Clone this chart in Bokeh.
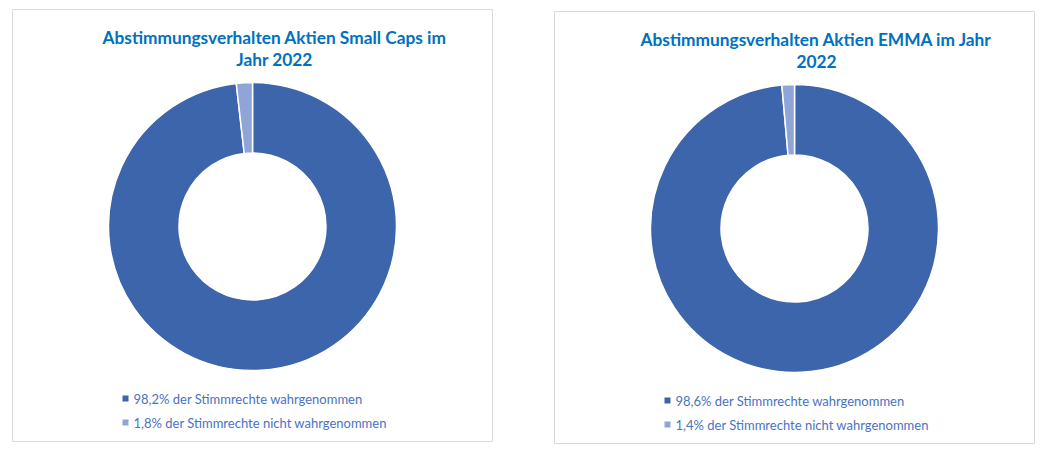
import math
from bokeh.plotting import figure
from bokeh.layouts import row, column
from bokeh.models import Range1d, Spacer, ColumnDataSource
from bokeh.core.properties import value
from bokeh.embed import file_html
from bokeh.resources import INLINE

# ---- data ----
titles_left = ["Abstimmungsverhalten Aktien Small Caps im", "Jahr 2022"]
titles_right = ["Abstimmungsverhalten Aktien EMMA im Jahr", "2022"]
values_left = [98.2, 1.8]
values_right = [98.6, 1.4]
label_suffixes = ["% der Stimmrechte wahrgenommen", "% der Stimmrechte nicht wahrgenommen"]
slice_colors = ["#3d65ab", "#8fa5d7"]

TITLE_COLOR = "#0070c0"
LEGEND_COLOR = "#4a72c2"
FONT = "Lato"

FW, FH = 480, 432  # frame size in px (1 data unit = 1 px)


def make_panel(title_lines, values):
    p = figure(width=FW + 2, height=FH + 2, min_border=1,
               x_range=Range1d(0, FW), y_range=Range1d(0, FH),
               output_backend="svg", toolbar_location=None,
               tools="")
    p.xaxis.visible = False
    p.yaxis.visible = False
    p.grid.visible = False
    p.outline_line_color = "#d9d9d9"
    p.outline_line_width = 1
    p.background_fill_color = "white"
    p.border_fill_color = "white"

    total = sum(values)
    starts, ends = [], []
    a = math.pi / 2
    for v in values:
        starts.append(a)
        a = a - 2 * math.pi * v / total
        ends.append(a)
    src = ColumnDataSource(dict(start=starts, end=ends, color=slice_colors[:len(values)]))
    cx, cy = 240, 215
    p.annular_wedge(x=cx, y=cy, inner_radius=73.5, outer_radius=144,
                    start_angle="start", end_angle="end", direction="clock",
                    fill_color="color", line_color="white", line_width=1.5,
                    source=src)

    # title
    ty = [404, 382]
    p.text(x=[262] * len(title_lines), y=ty[:len(title_lines)], text=title_lines,
           text_font=value(FONT), text_font_style="bold", text_font_size="17.3px",
           text_color=TITLE_COLOR, text_align="center", text_baseline="alphabetic")

    # legend
    labels = [f"{v:.1f}".replace(".", ",") + s for v, s in zip(values, label_suffixes)]
    ly = [43, 19]
    p.scatter(x=[113] * len(values), y=ly, marker="square", size=6,
              fill_color=slice_colors[:len(values)], line_color=None)
    p.text(x=[121] * len(values), y=ly, text=labels,
           text_font=value(FONT), text_font_size="13px",
           text_color=LEGEND_COLOR, text_align="left", text_baseline="middle")
    return p


p1 = make_panel(titles_left, values_left)
p2 = make_panel(titles_right, values_right)

layout = row(
    Spacer(width=11),
    column(Spacer(height=8), p1),
    Spacer(width=60),
    column(Spacer(height=10), p2),
)
layout.spacing = 0

open("out.html", "w").write(file_html(layout, INLINE))
